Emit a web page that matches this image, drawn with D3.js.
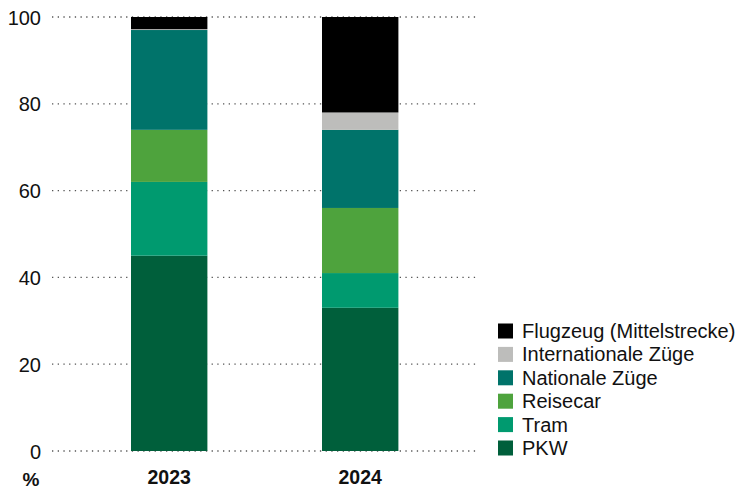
<!DOCTYPE html>
<html>
<head>
<meta charset="utf-8">
<script src="https://cdn.jsdelivr.net/npm/d3@7"></script>
<style>
  html, body { margin: 0; padding: 0; background: #fff; }
  svg { display: block; font-family: "Liberation Sans", Arial, sans-serif; }
</style>
</head>
<body>
<svg id="chart" width="740" height="490"></svg>
<script>
// Modal split by year, in percent
const years = ["2023", "2024"];
const modes = ["PKW", "Tram", "Reisecar", "Nationale Züge", "Internationale Züge", "Flugzeug (Mittelstrecke)"];
const pkw = [45, 33];
const tram = [17, 8];
const reisecar = [12, 15];
const nationaleZuege = [23, 18];
const internationaleZuege = [0.2, 4];
const flugzeug = [2.8, 22];
const colors = ["#005f3b", "#009a6f", "#4ea33d", "#00736a", "#bdbdbb", "#000000"];
const yTicks = [0, 20, 40, 60, 80, 100];

const seriesValues = [pkw, tram, reisecar, nationaleZuege, internationaleZuege, flugzeug];
const rows = years.map((y, i) => {
  const r = { year: y };
  modes.forEach((m, k) => { r[m] = seriesValues[k][i]; });
  return r;
});

const svg = d3.select("#chart");

const x = d3.scaleBand()
  .domain(years)
  .range([92.8, 436.6])
  .paddingInner(0.6)
  .paddingOuter(0.2);

const y = d3.scaleLinear().domain([0, 100]).range([451, 17]);

// Dotted gridlines
svg.append("g")
  .selectAll("line")
  .data(yTicks)
  .join("line")
  .attr("x1", 52)
  .attr("x2", 479)
  .attr("y1", d => y(d))
  .attr("y2", d => y(d))
  .attr("stroke", "#555")
  .attr("stroke-width", 1.3)
  .attr("stroke-dasharray", "1.3,4.4");

// Y axis labels
const yAxis = d3.axisLeft(y).tickValues(yTicks).tickSize(0).tickPadding(0);
const yg = svg.append("g").attr("transform", "translate(41,0)").call(yAxis);
yg.select(".domain").remove();
yg.selectAll("text")
  .attr("font-size", 20)
  .attr("fill", "#111")
  .attr("font-family", "Liberation Sans, Arial, sans-serif")
  .attr("dy", "0.35em");

// Stacked bars
const stack = d3.stack().keys(modes)(rows);
svg.append("g")
  .selectAll("g")
  .data(stack)
  .join("g")
  .attr("fill", (d, i) => colors[i])
  .selectAll("rect")
  .data(d => d)
  .join("rect")
  .attr("x", d => x(d.data.year))
  .attr("width", x.bandwidth())
  .attr("y", d => y(d[1]))
  .attr("height", d => y(d[0]) - y(d[1]));

// X axis labels
const xAxis = d3.axisBottom(x).tickSize(0).tickPadding(0);
const xg = svg.append("g").attr("transform", "translate(0,470)").call(xAxis);
xg.select(".domain").remove();
xg.selectAll("text")
  .attr("font-size", 19.5)
  .attr("font-weight", "bold")
  .attr("fill", "#111")
  .attr("font-family", "Liberation Sans, Arial, sans-serif")
  .attr("dy", "0.71em");

// Unit label
svg.append("text")
  .attr("x", 31)
  .attr("y", 486)
  .attr("text-anchor", "middle")
  .attr("font-size", 19)
  .attr("font-weight", "bold")
  .attr("fill", "#111")
  .text("%");

// Legend (top entry = top of stack)
const legendItems = modes.slice().reverse();
const legendColors = colors.slice().reverse();
const lg = svg.append("g").attr("transform", "translate(498,320)");
const li = lg.selectAll("g")
  .data(legendItems)
  .join("g")
  .attr("transform", (d, i) => `translate(0,${i * 23.4})`);
li.append("rect")
  .attr("width", 15)
  .attr("height", 15)
  .attr("y", 3.5)
  .attr("fill", (d, i) => legendColors[i]);
li.append("text")
  .attr("x", 24)
  .attr("y", 11)
  .attr("dy", "0.35em")
  .attr("font-size", 20)
  .attr("fill", "#111")
  .text(d => d);
</script>
</body>
</html>
